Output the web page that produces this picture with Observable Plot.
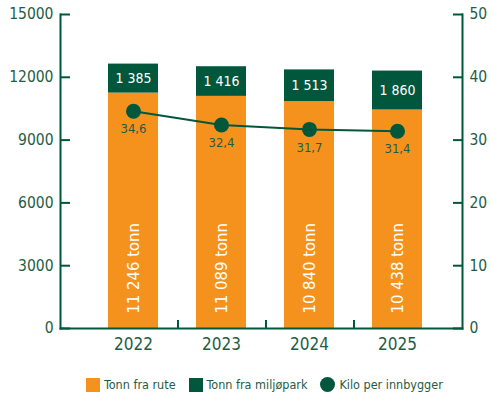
<!DOCTYPE html>
<html><head><meta charset="utf-8">
<script src="https://cdn.jsdelivr.net/npm/d3@7"></script>
<script src="https://cdn.jsdelivr.net/npm/@observablehq/plot@0.6"></script>
<style>
body{margin:0;background:#fff;font-family:"DejaVu Sans Condensed","DejaVu Sans",sans-serif;font-stretch:condensed;}
#legend{display:flex;align-items:center;gap:13px;margin-left:86px;margin-top:15px;font-size:12.5px;color:#1e5d45;}
.item{display:flex;align-items:center;gap:4px;}
.sw{width:14px;height:14px;display:inline-block;}
</style></head><body>
<div id="chart"></div>
<div id="legend"></div>
<script>
const years = ["2022", "2023", "2024", "2025"];
const rute = [11246, 11089, 10840, 10438];
const miljo = [1385, 1416, 1513, 1860];
const kilo = [34.6, 32.4, 31.7, 31.4];
const leftTicks = [0, 3000, 6000, 9000, 12000, 15000];
const rightTicks = [0, 10, 20, 30, 40, 50];
const seriesNames = ["Tonn fra rute", "Tonn fra miljøpark", "Kilo per innbygger"];
const seriesColors = ["#f5921e", "#00573b", "#00573b"];
const ratio = 15000 / 50;

const green = "#00573b";
const textGreen = "#1e5d45";
const fmt = v => d3.format(",")(v).replace(/,/g, " ");
const fmtDec = v => d3.format(".1f")(v).replace(".", ",");

const rows = [];
years.forEach((y, i) => {
  rows.push({year: y, series: seriesNames[0], value: rute[i]});
  rows.push({year: y, series: seriesNames[1], value: miljo[i]});
});
const info = years.map((y, i) => ({year: y, rute: rute[i], miljo: miljo[i], kilo: kilo[i]}));

const plot = Plot.plot({
  width: 491,
  height: 362,
  marginTop: 14,
  marginBottom: 34,
  marginLeft: 60,
  marginRight: 29,
  style: {fontFamily: '"DejaVu Sans Condensed","DejaVu Sans",sans-serif', fontStretch: "condensed", background: "#fff"},
  x: {domain: years, paddingInner: 0.427, paddingOuter: 0.472, align: 0.55},
  y: {domain: [0, 15000]},
  color: {domain: seriesNames.slice(0, 2), range: seriesColors.slice(0, 2)},
  marks: [
    Plot.barY(rows, {x: "year", y: "value", fill: "series"}),
    Plot.frame({anchor: "left", stroke: green, strokeWidth: 2}),
    Plot.frame({anchor: "right", stroke: green, strokeWidth: 2}),
    Plot.frame({anchor: "bottom", stroke: green, strokeWidth: 2}),
    Plot.axisY({anchor: "left", ticks: leftTicks, tickSize: -10, tickPadding: 17, tickFormat: d => String(d), fontSize: 15.5, color: textGreen, stroke: green, strokeWidth: 2, label: null}),
    Plot.axisY({anchor: "right", ticks: rightTicks.map(d => d * ratio), tickSize: -10, tickPadding: 17, tickFormat: d => String(d / ratio), fontSize: 15.5, color: textGreen, stroke: green, strokeWidth: 2, label: null}),
    Plot.axisX({anchor: "bottom", ticks: years.slice(0, 3), tickSize: -8, dx: 44.5, text: null, stroke: green, strokeWidth: 2, label: null}),
    Plot.axisX({anchor: "bottom", tickSize: 0, tickPadding: 9, fontSize: 17, color: textGreen, label: null}),
    Plot.text(info, {x: "year", y: d => d.rute + d.miljo / 2, text: d => fmt(d.miljo), fill: "white", fontSize: 14}),
    Plot.text(info, {x: "year", y: () => 0, text: d => fmt(d.rute) + " tonn", rotate: -90, textAnchor: "start", dy: -15, fill: "white", fontSize: 16.5}),
    Plot.line(info, {x: "year", y: d => d.kilo * ratio, stroke: green, strokeWidth: 2}),
    Plot.dot(info, {x: "year", y: d => d.kilo * ratio, r: 7.5, fill: green}),
    Plot.text(info, {x: "year", y: d => d.kilo * ratio, text: d => fmtDec(d.kilo), dy: 18, fill: textGreen, fontSize: 13})
  ]
});
document.getElementById("chart").appendChild(plot);

const legend = document.getElementById("legend");
seriesNames.forEach((name, i) => {
  const item = document.createElement("div");
  item.className = "item";
  const sw = document.createElement("span");
  sw.className = "sw";
  sw.style.background = seriesColors[i];
  if (i === 2) { sw.style.borderRadius = "50%"; sw.style.width = "15px"; sw.style.height = "15px"; }
  const t = document.createElement("span");
  t.textContent = name;
  item.appendChild(sw); item.appendChild(t);
  legend.appendChild(item);
});
</script>
</body></html>
